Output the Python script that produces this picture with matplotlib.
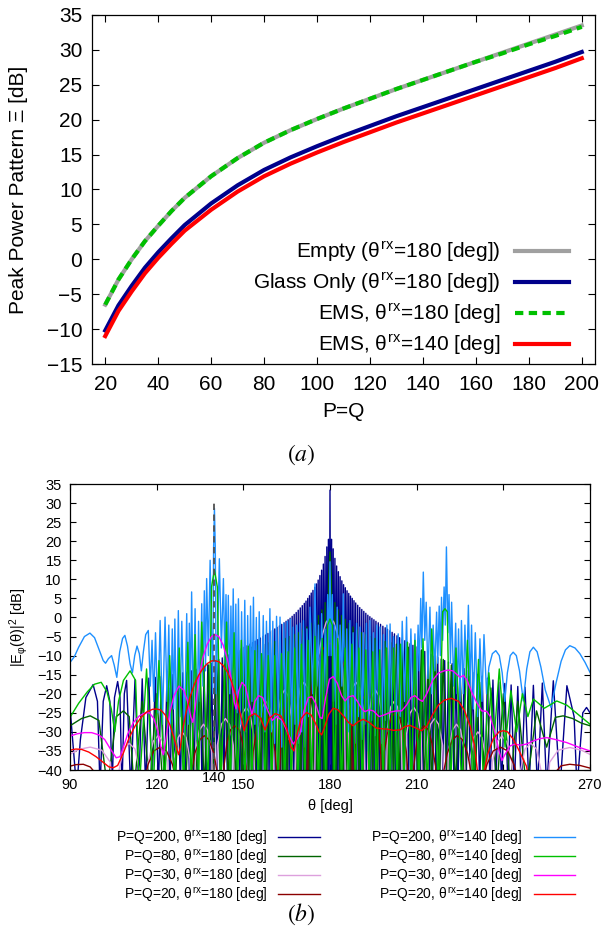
import matplotlib
matplotlib.use("Agg")
import matplotlib.pyplot as plt
import numpy as np

plt.rcParams["font.family"] = ["Liberation Sans", "DejaVu Sans"]
plt.rcParams["mathtext.fontset"] = "custom"
plt.rcParams["mathtext.rm"] = "Liberation Sans"
plt.rcParams["mathtext.it"] = "Liberation Sans"
plt.rcParams["mathtext.bf"] = "Liberation Sans:bold"

# ---------------- panel (a) data ----------------
pq = [20, 25, 30, 35, 40, 45, 50, 60, 70, 80, 90, 100, 110, 120, 130, 140, 150, 160, 170, 180, 190, 200]
empty_180 = [-6.5, -2.9, 0.0, 2.6, 4.8, 6.9, 8.8, 11.9, 14.5, 16.7, 18.5, 20.1, 21.6, 23.0, 24.4, 25.7, 27.0, 28.3, 29.6, 30.9, 32.2, 33.5]
glass_180 = [-10.2, -6.6, -3.8, -1.2, 1.0, 3.0, 4.9, 8.0, 10.6, 12.8, 14.6, 16.2, 17.7, 19.1, 20.5, 21.8, 23.1, 24.4, 25.7, 27.0, 28.3, 29.7]
ems_180 = [-6.5, -2.9, 0.0, 2.6, 4.8, 6.9, 8.8, 11.9, 14.5, 16.7, 18.5, 20.1, 21.6, 23.0, 24.4, 25.7, 27.0, 28.3, 29.5, 30.8, 32.0, 33.3]
ems_140 = [-11.0, -7.4, -4.6, -2.0, 0.2, 2.2, 4.1, 7.1, 9.7, 11.9, 13.7, 15.3, 16.8, 18.2, 19.6, 20.9, 22.2, 23.5, 24.8, 26.1, 27.4, 28.8]

# ---------------- panel (b) data (theta [deg], dB) ----------------
NULL_DB = -45.0  # nulls lie below the -40 dB floor

# P=Q=200, theta_rx=180 : lobe peaks and null positions
navy_peaks = [(90, -23.6), (93.6, -32), (95.5, -21), (98, -17.6), (99.5, -22), (101.5, -22), (102.7, -17.9),
              (103.8, -22), (105.4, -21), (106.5, -16.8), (107.3, -21), (108.8, -20), (109.6, -16.5),
              (112.5, -16.3), (115, -16.1), (117.3, -15.9), (119.5, -15.7), (121.6, -15.5), (123.6, -15.3),
              (125.5, -15), (127.3, -14.8), (129, -14.5), (130.6, -14.3), (132.1, -14), (133.6, -13.6),
              (135, -13.2), (136.4, -12.8), (137.7, -12.4), (139, -12), (140.3, -11.5), (141.5, -11),
              (142.7, -10.6), (143.9, -10.2), (145, -9.8), (146.1, -9.4), (147.2, -9), (148.3, -8.6),
              (149.3, -8.2), (150.3, -7.8), (151.3, -7.4), (152.3, -7), (153.2, -6.6), (154.1, -6.2),
              (155, -5.8), (155.9, -5.4), (156.8, -5), (157.7, -4.6), (158.5, -4.2), (159.3, -3.8),
              (160.1, -3.4), (160.9, -3), (161.7, -2.6), (162.5, -2.2), (163.3, -1.8), (164.1, -1.4),
              (164.8, -1), (165.5, -0.6), (166.2, -0.2), (166.9, 0.3), (167.6, 0.8), (168.3, 1.3),
              (169, 1.9), (169.7, 2.5), (170.4, 3.1), (171.1, 3.7), (171.7, 4.3), (172.3, 5), (172.9, 5.7),
              (173.5, 6.4), (174.1, 7.1), (174.7, 7.9), (175.3, 8.8), (175.9, 9.8), (176.5, 11),
              (177.1, 12.4), (177.7, 14), (178.3, 16), (178.9, 18.5), (179.45, 20.5), (180, 33.4),
              (180.55, 20.5), (181.1, 18), (181.7, 15.5), (182.3, 13.5), (182.9, 12), (183.5, 10.7),
              (184.1, 9.6), (184.7, 8.6), (185.3, 7.8), (185.9, 7), (186.5, 6.3), (187.1, 5.6), (187.7, 5),
              (188.3, 4.4), (188.9, 3.8), (189.6, 3.2), (190.3, 2.6), (191, 2.1), (191.7, 1.6), (192.4, 1.1),
              (193.1, 0.6), (193.8, 0.2), (194.5, -0.2), (195.2, -0.6), (195.9, -1), (196.7, -1.4),
              (197.5, -1.8), (198.3, -2.3), (199.1, -2.7), (199.9, -3.1), (200.7, -3.5), (201.5, -3.9),
              (202.3, -4.3), (203.2, -4.8), (204.1, -5.3), (205, -5.7), (205.9, -6.1), (206.8, -6.5),
              (207.7, -6.9), (208.7, -7.3), (209.7, -7.7), (210.7, -8.1), (211.7, -8.5), (212.8, -8.9),
              (213.9, -9.3), (215, -9.7), (216.1, -10.1), (217.3, -10.5), (218.5, -10.9), (219.7, -11.3),
              (221, -11.7), (222.3, -12.1), (223.6, -12.5), (225, -13), (226.4, -13.4), (227.9, -13.9),
              (229.4, -14.4), (231, -14.9), (232.7, -15.4), (234.5, -15.9), (236.4, -16.4), (238.4, -16.9),
              (240.5, -17.3), (242.7, -17.7), (245, -18.1), (247.5, -18.3), (250.4, -17.8), (253.5, -17.2),
              (257.3, -16.6), (262, -17.9), (264.5, -26), (267.5, -25), (268.8, -23.6), (270, -25)]
navy_nulls = [92.3, 100.4, 104.6, 108, 111, 113.8, 116.2, 118.4, 120.6, 122.6, 124.6, 126.4, 128.2, 129.8,
              131.4, 132.9, 134.3, 135.7, 137.1, 138.4, 139.7, 140.9, 142.1, 143.3, 144.5, 145.6, 146.7,
              147.8, 148.8, 149.8, 150.8, 151.8, 152.8, 153.7, 154.6, 155.5, 156.4, 157.3, 158.1, 158.9,
              159.7, 160.5, 161.3, 162.1, 162.9, 163.7, 164.45, 165.15, 165.85, 166.55, 167.25, 167.95,
              168.65, 169.35, 170.05, 170.75, 171.4, 172, 172.6, 173.2, 173.8, 174.4, 175, 175.6, 176.2,
              176.8, 177.4, 178, 178.6, 179.2, 179.7, 180.3, 180.8, 181.4, 182, 182.6, 183.2, 183.8, 184.4,
              185, 185.6, 186.2, 186.8, 187.4, 188, 188.6, 189.25, 189.95, 190.65, 191.35, 192.05, 192.75,
              193.45, 194.15, 194.85, 195.55, 196.3, 197.1, 197.9, 198.7, 199.5, 200.3, 201.1, 201.9,
              202.7, 203.6, 204.5, 205.4, 206.3, 207.2, 208.2, 209.2, 210.2, 211.2, 212.2, 213.3, 214.4,
              215.5, 216.7, 217.9, 219.1, 220.3, 221.6, 222.9, 224.3, 225.7, 227.1, 228.6, 230.2, 231.8,
              233.6, 235.4, 237.4, 239.4, 241.6, 243.8, 246.2, 248.9, 251.8, 255, 259.6, 265.5]

# P=Q=80, theta_rx=180
dkgreen_peaks = [(90, -28.4), (94, -26.5), (97, -25.8), (100, -27), (106, -26), (108.5, -24.5), (110.5, -26),
                 (115, -22), (120, -20), (124.3, -18.5), (128.2, -17), (131.7, -15.5), (135, -14), (138, -12.5),
                 (140.8, -11), (143.5, -10), (146, -9.3), (148.4, -8.7), (150.7, -8.2), (152.9, -7.8), (155, -7.3),
                 (157, -7), (159, -6.6), (160.9, -6.3), (162.7, -6), (164.4, -5.5), (166, -5), (167.6, -4.5),
                 (169.1, -4), (170.6, -3.3), (172, -2.5), (173.4, -1.5), (174.7, -0.5), (176, 0.5), (177.2, 2),
                 (178.3, 3.9), (179.5, 10), (180, 17.2), (180.5, 10), (181.7, 3.9), (182.8, 2), (184, 0.5),
                 (185.3, -0.5), (186.6, -1.5), (188, -2.5), (189.4, -3.3), (190.9, -4), (192.4, -4.5), (194, -5),
                 (195.6, -5.5), (197.3, -6), (199.1, -6.3), (201, -6.6), (203, -7), (205, -7.3), (207.1, -7.8),
                 (209.3, -8.2), (211.6, -8.7), (214, -9.3), (216.5, -10), (219.2, -11), (222, -12.5), (225, -14),
                 (228.3, -15.5), (231.8, -17), (235.7, -18.5), (240, -20), (245, -22), (251.5, -24.5),
                 (258, -26.2), (260.7, -25.8), (264, -26.5), (267, -27.7), (270, -28.4)]
dkgreen_nulls = [(103, -45), (112.2, -45), (117.6, -45), (122.2, -45), (126.3, -45), (130, -45), (133.4, -45),
                 (136.5, -45), (139.4, -45), (142.2, -45), (144.8, -45), (147.2, -45), (149.6, -45), (151.8, -45),
                 (154, -45), (156, -45), (158, -45), (160, -45), (161.8, -45), (163.6, -45), (165.2, -45),
                 (166.8, -45), (168.4, -45), (169.9, -45), (171.3, -45), (172.7, -45), (174.1, -45), (175.4, -45),
                 (176.6, -45), (177.8, -45), (178.9, -45), (181.1, -45), (182.2, -45), (183.4, -45), (184.6, -45),
                 (185.9, -45), (187.3, -45), (188.7, -45), (190.1, -45), (191.6, -45), (193.2, -45), (194.8, -45),
                 (196.4, -45), (198.2, -45), (200, -45), (202, -45), (204, -45), (206, -45), (208.2, -45),
                 (210.4, -45), (212.8, -45), (215.2, -45), (217.8, -45), (220.6, -45), (223.5, -45), (226.6, -45),
                 (230, -45), (233.7, -45), (237.8, -45), (242.4, -45), (248, -45), (255, -34)]

# P=Q=30, theta_rx=180
plum_pts = [(90, -35.9), (93, -34.6), (97, -34), (101, -34.8), (104, -38), (105.5, -60),
            (107, -40), (108.5, -34.5), (110.5, -33), (112.5, -34.5), (114, -40), (115.5, -60),
            (117, -38), (118.8, -32.5), (120.5, -31), (122.2, -32.5), (123.8, -38), (125, -60),
            (126, -37), (127.4, -31.5), (128.8, -30), (130.2, -31.5), (131.5, -37), (132.5, -60),
            (133.5, -35), (134.8, -29.5), (136.2, -28), (137.6, -29.5), (139, -35), (140, -60),
            (141, -33.5), (142.4, -28), (143.8, -26.5), (145.2, -28), (146.5, -33.5), (147.5, -60),
            (148.5, -30.6), (149.7, -25.1), (151, -23.6), (152.3, -25.1), (153.5, -30.6), (154.5, -60),
            (155.4, -29), (156.6, -23.5), (157.8, -22), (159, -23.5), (160.1, -29), (161, -60),
            (161.9, -26), (163.1, -20.5), (164.3, -19), (165.5, -20.5), (166.6, -26), (167.5, -60),
            (168.5, -24), (169.7, -18.5), (171, -17), (172.3, -18.5), (173.5, -24), (174.5, -60),
            (175, -22), (175.7, -13), (176.5, -8), (177.5, -4.2), (178.7, -1.2), (180, 0), (181.3, -1.2),
            (182.5, -4.2), (183.5, -8), (184.3, -13), (185, -22), (185.5, -60),
            (186.5, -24), (187.7, -18.5), (189, -17), (190.3, -18.5), (191.5, -24), (192.5, -60),
            (193.4, -26), (194.5, -20.5), (195.7, -19), (196.9, -20.5), (198.1, -26), (199, -60),
            (199.9, -29), (201, -23.5), (202.2, -22), (203.4, -23.5), (204.6, -29), (205.5, -60),
            (206.5, -30.6), (207.7, -25.1), (209, -23.6), (210.3, -25.1), (211.5, -30.6), (212.5, -60),
            (213.5, -33.5), (214.8, -28), (216.2, -26.5), (217.6, -28), (219, -33.5), (220, -60),
            (221, -35), (222.4, -29.5), (223.8, -28), (225.2, -29.5), (226.5, -35), (227.5, -60),
            (228.5, -37), (229.8, -31.5), (231.2, -30), (232.6, -31.5), (234, -37), (235, -60),
            (236.2, -38), (237.8, -32.6), (239.5, -31.1), (241.2, -32.6), (243, -38), (244.5, -60),
            (246, -40), (247.5, -34.5), (249.5, -33), (251.5, -34.5), (253, -40), (254.5, -60),
            (256, -38), (259, -34.8), (263, -34.1), (267, -34.8), (270, -35.9)]

# P=Q=20, theta_rx=180
dkred_pts = [(90, -39.0), (92, -38.6), (94.6, -38.5), (97, -39.2), (99, -41), (101, -60),
             (114, -60), (115.5, -44), (117, -38.6), (119, -35), (121.2, -34), (123.4, -35), (125.5, -38.6), (127, -44), (128, -60),
             (131, -60), (132, -41), (133.2, -35.6), (135, -32), (136.5, -31), (138, -32), (139.8, -35.6), (141, -41), (142, -60),
             (142.5, -60), (143.3, -39), (144.3, -33), (145.6, -29.4), (147, -28.4), (148.5, -29.4), (149.8, -33), (150.9, -39), (151.8, -60),
             (152.2, -60), (152.8, -41), (153.4, -35.2), (154.6, -29.6), (155.8, -26), (157.2, -25), (158.6, -26), (159.8, -29.6), (161, -35.2), (161.6, -41), (162, -60),
             (162.4, -46), (163, -30.2), (164, -24.6), (165.5, -21), (167, -20), (168.5, -21), (170, -24.6), (171, -30.2), (171.6, -36), (172, -60),
             (172.5, -30), (173.2, -22), (174.2, -15), (175.4, -12), (177, -9), (178.5, -7.3), (180, -6.8),
             (181.5, -7.3), (183, -9), (184.6, -12), (185.8, -15), (186.8, -22), (187.5, -30), (188, -60),
             (188.4, -36), (189, -30.2), (190, -24.6), (191.5, -21), (193, -20), (194.5, -21), (196, -24.6), (197, -30.2), (197.6, -36), (198, -60),
             (198.3, -46), (198.8, -35.2), (200, -29.6), (201.2, -26), (202.6, -25), (204, -26), (205.2, -29.6), (206.4, -35.2), (207, -41), (207.5, -60),
             (208, -60), (209, -39), (210, -33), (211.2, -29.4), (212.6, -28.4), (214, -29.4), (215.3, -33), (216.5, -39), (217.5, -60),
             (218, -60), (219.2, -41), (220.6, -35.6), (222.4, -32), (224, -31), (225.8, -32), (227.6, -35.6), (228.9, -41), (230, -60),
             (231, -60), (232.5, -44), (234.3, -38.6), (236.5, -35), (239, -34), (241.5, -35), (243.7, -38.6), (245.5, -44), (247, -60),
             (255, -60), (257.5, -41), (260, -38.9), (263, -38.5), (266.5, -38.8), (270, -39.5)]

# P=Q=200, theta_rx=140
ltblue_pts = [(90, -11.8), (91.5, -10.3), (93, -7.8), (95, -5), (96.9, -4.1), (98.5, -5.3), (100, -8.3),
              (101.5, -11.3), (102.3, -12), (103.3, -10.8), (104.4, -10), (105.3, -12.5), (106.2, -15.7),
              (107.2, -9), (108.2, -5.5), (109, -4.7), (109.9, -7.5), (110.8, -12.2), (111.6, -14.5),
              (112.4, -10), (113.2, -7.5), (114, -9.5), (114.7, -14), (115.4, -9), (116.2, -4.5), (117.1, -3.4),
              (117.8, -18), (118.4, -6), (119, -22), (119.6, -4), (120.4, -25), (121.2, -0.8), (122, -28),
              (122.9, 0.1), (123.6, -22), (124.2, -2), (124.8, -30), (125.4, -3), (125.9, -24), (126.3, -0.4),
              (126.9, -32), (127.5, 1.8), (128.1, -26), (128.7, -1), (129.6, -30), (130.4, 1), (130.9, -28),
              (131.3, -1.5), (131.7, -20), (132.1, 6.7), (132.7, -25), (133.3, 2.3), (133.9, -32), (134.5, -1),
              (135, -22), (135.6, 3.6), (136, -18), (136.5, 7), (136.9, -14), (137.3, 10.2), (137.9, -10),
              (138.5, 15), (139.4, -20), (139.7, 18), (140, 28.6), (140.3, 18), (140.6, -20), (141.7, 15.4),
              (142.4, -8), (143.1, 10.2), (143.6, -12), (144, 6), (144.4, -15), (144.8, 5.8), (145.3, -20),
              (145.7, 3), (146.1, -16), (146.5, 7.5), (147, -22), (147.4, 3.5), (147.8, -25), (148.3, 4.9),
              (148.9, -28), (149.4, 1.5), (149.9, -24), (150.5, 4.5), (151, -30), (151.5, 0.5), (152, -26),
              (152.5, 3), (153, -22), (153.5, 5.3), (154, -28), (154.5, 0), (155, -32), (155.5, 1.5),
              (156.2, -26), (156.9, 0.5), (157.5, -30), (158, -1), (158.6, -24), (159.2, 2.3), (159.7, -30),
              (160.2, -1), (160.8, -33), (161.5, 0.3), (162.1, -26), (162.7, 0.1), (163.3, -34), (164, -1.5),
              (164.6, -28), (165.2, -1), (165.8, -32), (166.3, -0.4), (166.8, -35), (167.3, -2.5), (167.9, -28),
              (168.5, -2), (169, -33), (169.6, -1.5), (170.2, -30), (170.8, -0.8), (171.4, -34), (172, -3),
              (172.6, -26), (173.1, 2.7), (174, -20), (174.8, 8.8), (175.4, -18), (176, -2), (176.6, -30),
              (177.1, 1), (177.7, -25), (178.3, -3), (178.8, -20), (179.2, 6), (179.6, -10), (180, 14.6),
              (180.4, -10), (180.8, 6), (181.2, -22), (181.6, -2), (182, -28), (182.5, 2.7), (183, -24),
              (183.5, -2), (184.1, -18), (184.6, 6.2), (185.2, -26), (185.8, -3), (186.3, -30), (186.9, -0.8),
              (187.5, -28), (188, -4), (188.6, -33), (189.2, -1.5), (189.8, -26), (190.4, -2.5), (191, -32),
              (191.5, -4), (192, -28), (192.6, -1.5), (193.2, -35), (193.8, -0.8), (194.4, -27), (195, -4),
              (195.6, -31), (196.2, -2), (196.8, -25), (197.3, -2.5), (197.9, -33), (198.5, -4.5), (199.1, -27),
              (199.7, -2), (200.2, -30), (200.8, -1.7), (201.4, -24), (202, -5), (202.8, -30), (203.6, -4.3),
              (204.3, -26), (205, -1), (205.8, -22), (206.5, 0.1), (207.2, -28), (208, -3), (208.7, -24),
              (209.4, -4.3), (209.9, -20), (210.5, -2), (210.9, -14), (211.4, 5), (211.8, -8), (212.3, 11.9),
              (212.8, -6), (213.3, 4), (213.9, -16), (214.6, 2.7), (215.2, -20), (215.7, -2), (216.3, -14),
              (216.9, 1.4), (217.3, -12), (217.8, 3), (218.2, -10), (218.6, 5.3), (219, -6), (219.5, 8),
              (219.9, -2), (220.3, 18.5), (220.8, -4), (221.2, 6), (221.7, -12), (222.1, 4), (222.8, -18),
              (223.5, -1.5), (224, -20), (224.5, -3), (225, -22), (225.5, -0.8), (226.1, -20), (226.7, -2),
              (227.3, -16), (227.9, 3.2), (228.5, -18), (229, -2), (229.6, -24), (230.3, -4), (231.1, -26),
              (231.9, -5.6), (232.6, -22), (233.3, -4.5), (234.2, -20), (235, -13), (236.2, -9.5), (237.4, -8.7),
              (238.6, -10), (239.6, -14.5), (240.5, -22), (241.4, -14.5), (242.4, -10), (243.4, -9.1),
              (244.5, -10), (245.6, -14), (246.9, -21.9), (248.1, -13.5), (249.2, -9), (250.4, -7.8),
              (251.7, -9), (253, -13), (254.5, -19), (256.5, -23.6), (258.3, -17), (260, -11.5), (261.5, -8.5),
              (263, -7.4), (264.8, -8), (266.5, -9.5), (268.3, -11.8), (270, -14.4)]

# P=Q=80, theta_rx=140
green_peaks = [(90, -26.2), (93, -22.5), (96, -19.5), (98.5, -17.5), (100.8, -17), (102.8, -19.5), (104.3, -24),
               (106.8, -22), (108.5, -16.5), (110.8, -14), (112.7, -16.5), (116.5, -13.5), (120.8, -11.3),
               (124.5, -10), (127.8, -8), (130.8, -6.5), (133.3, -4.5), (135.6, -1.2), (139, 8), (140, 12.5),
               (141, 8), (144.2, -1.2), (146.8, -4), (149.3, -6), (151.7, -7.5), (154, -8.7), (156.3, -9.5),
               (158.6, -10), (160.9, -10), (163.2, -9.5), (165.5, -9), (167.8, -8), (170.1, -7), (172.4, -6),
               (174.8, -5), (177.3, -5.5), (179.2, -2), (180, -0.4), (180.8, -2), (182.7, -5.5), (185.2, -8),
               (187.6, -7), (190, -8), (192.4, -8.5), (194.8, -9), (197.2, -8.5), (199.6, -8), (202, -8),
               (204.4, -7), (206.8, -6.5), (209.4, -6), (212.2, -5.6), (215.2, -3), (219, 1.5), (219.8, 2.3),
               (220.6, 1.5), (223.6, -8), (227.6, -6), (231.4, -11), (235, -14.5), (238.6, -13.5), (242.6, -19.2),
               (246.6, -20), (250.4, -21.4), (258.5, -21.9), (262, -23), (266, -25.5), (270, -28)]
green_nulls = [(105.5, -30), (114, -45), (118.8, -45), (122.8, -45), (126.2, -45), (129.3, -45), (132, -45),
               (134.5, -45), (137.8, -45), (142.2, -45), (145.5, -45), (148, -45), (150.5, -45), (152.9, -45),
               (155.2, -45), (157.5, -45), (159.8, -45), (162, -45), (164.3, -45), (166.6, -45), (169, -45),
               (171.3, -45), (173.6, -45), (176, -45), (178.5, -45), (181.5, -45), (184, -45), (186.4, -45),
               (188.8, -45), (191.2, -45), (193.6, -45), (196, -45), (198.4, -45), (200.8, -45), (203.2, -45),
               (205.6, -45), (208.1, -45), (210.8, -45), (213.7, -45), (217.5, -45), (221.7, -45), (225.6, -45),
               (229.5, -45), (233.2, -45), (236.8, -32), (240.6, -34), (244.6, -30), (248.5, -26), (254.2, -23.8)]

# P=Q=30, theta_rx=140
magenta_pts = [(90, -31.1), (92.5, -30.5), (95, -30.2), (97.5, -30.2), (100, -30.8), (102, -32), (104, -34.5),
               (106, -36.8), (107.3, -36.5), (108.5, -34), (110, -30.5), (112, -27.5), (114, -25.8), (116, -25),
               (117.5, -25), (119, -26.5), (120.5, -30), (121.5, -34), (122.3, -36), (123.2, -32), (124.5, -25),
               (126, -20.5), (127.7, -18), (129.3, -19), (130.7, -22), (131.8, -26), (132.5, -27.5), (133.3, -24),
               (134.5, -16), (136, -10.5), (137.5, -7), (139, -5), (140.2, -4.5), (141.5, -5), (143, -7.2),
               (144.5, -11), (145.8, -16), (146.8, -22), (147.5, -24), (148.3, -19.5), (149.5, -17), (150.7, -18),
               (152, -22.5), (153, -25.5), (154, -22), (155.3, -20.5), (156.7, -21), (158.5, -24.5), (160, -27),
               (161.5, -26), (163.5, -27), (165.5, -30.5), (167.3, -33.2), (168.5, -32), (169.6, -30.6), (171, -24.5),
               (172.5, -21), (173.8, -20.8), (175, -22.5), (176.5, -26.2), (177.3, -26.5), (178.5, -21),
               (179.8, -16.2), (181.1, -15.5), (182.5, -17.2), (184, -20.5), (185.2, -21.9), (186.5, -20.8),
               (188, -20.5), (189.5, -22), (191, -24), (192.1, -24.7), (193.5, -24.2), (195, -24.5), (197, -26),
               (199, -25.5), (201, -24.8), (203, -24.5), (204.8, -24.5), (206.5, -23), (208, -21), (209.4, -20.5),
               (210.8, -21.5), (212, -22), (213.5, -20), (215.5, -16.5), (217.5, -14.6), (219.5, -14), (221, -13.8),
               (222.5, -14), (224, -15), (225, -15.7), (226.2, -15.2), (227.5, -16.5), (229, -19.5), (230.8, -22.3),
               (232.5, -24.5), (234.2, -24.6), (235.5, -26), (237, -30), (238.5, -35), (239.5, -37.5), (240.5, -36),
               (242.3, -33.7), (244, -33.2), (246, -33.5), (248, -33.2), (250, -32.5), (252.5, -31.8), (255, -31.5),
               (258, -32), (261.9, -32.8), (266, -34), (270, -35)]

# P=Q=20, theta_rx=140
red_pts = [(90, -34.8), (92, -34.5), (94, -34.6), (96.5, -35.3), (99, -36.5), (101.5, -38), (103.5, -39.2),
           (105, -39.4), (106.5, -38.8), (108.5, -35.5), (110.5, -31.5), (112.5, -28.5), (114.5, -26.3),
           (116.5, -24.8), (118.5, -24.1), (120, -24.0), (121.5, -24.3), (123, -25.6), (124.5, -28), (126, -31.5),
           (127, -34.5), (127.6, -36), (128.2, -34), (129, -29.5), (130, -25.5), (131.5, -21), (133, -17.6),
           (134.5, -15.2), (136, -13.4), (137.5, -12.1), (139, -11.4), (140, -11.3), (141.5, -11.6), (143, -12.6),
           (144.5, -14.3), (146, -17), (147.5, -20.6), (149, -25.5), (150.3, -29.7), (152, -26), (154, -25.2),
           (156, -26.5), (157.5, -29.5), (159, -26.5), (161, -25.2), (163, -25.8), (165, -29), (166.5, -34),
           (167.5, -35), (168.5, -31), (170, -26.5), (171.9, -24.9), (173.5, -25.6), (175, -27.8), (176.2, -30),
           (177.1, -30.8), (178, -29), (179.5, -25.5), (181.1, -23.8), (182.7, -24.2), (184.5, -25.7), (186.5, -27.6),
           (188, -28.4), (189.8, -27.3), (191.5, -26.7), (193.5, -27.5), (196, -29), (198, -29.2), (200, -29.3),
           (202, -29.6), (204.2, -29.5), (206, -28.6), (207.7, -28.3), (209.5, -28.9), (211.7, -29.7), (213.5, -28.5),
           (215.5, -25.5), (217.5, -23), (219.5, -21.7), (222, -21.2), (224.5, -22), (226.5, -24.3), (228.5, -28.5),
           (230, -33.5), (231, -40), (231.5, -60), (233, -42), (234.5, -36), (236.5, -31.8), (238.5, -30),
           (240, -29.7), (241.5, -30), (243.5, -32), (245.5, -35), (248, -39), (250.4, -48)]

labels_b = ["P=Q=200, $\\theta^{rx}$=180 [deg]", "P=Q=80, $\\theta^{rx}$=180 [deg]",
            "P=Q=30, $\\theta^{rx}$=180 [deg]", "P=Q=20, $\\theta^{rx}$=180 [deg]",
            "P=Q=200, $\\theta^{rx}$=140 [deg]", "P=Q=80, $\\theta^{rx}$=140 [deg]",
            "P=Q=30, $\\theta^{rx}$=140 [deg]", "P=Q=20, $\\theta^{rx}$=140 [deg]"]
colors_b = ["#00008b", "#006400", "#dda0dd", "#8b0000", "#1e90ff", "#00c000", "#ff00ff", "#ff0000"]


def merged(peaks, nulls):
    pts = sorted(list(peaks) + list(nulls))
    return [p[0] for p in pts], [p[1] for p in pts]


def unzip(pts):
    return [p[0] for p in pts], [p[1] for p in pts]


curves_b = [
    merged(navy_peaks, [(t, NULL_DB) for t in navy_nulls]),
    merged(dkgreen_peaks, dkgreen_nulls),
    unzip(plum_pts),
    unzip(dkred_pts),
    unzip(ltblue_pts),
    merged(green_peaks, green_nulls),
    unzip(magenta_pts),
    unzip(red_pts),
]

fig = plt.figure(figsize=(6.02, 9.35), dpi=100)

# ---------------- panel (a) ----------------
ax1 = fig.add_axes([92 / 602, 1 - 364 / 935, 503 / 602, 349 / 935])
ax1.plot(pq, empty_180, color="#a0a0a0", lw=3.0, label="Empty ($\\theta^{rx}$=180 [deg])")
ax1.plot(pq, glass_180, color="#00008b", lw=3.0, label="Glass Only ($\\theta^{rx}$=180 [deg])")
ax1.plot(pq, ems_180, color="#00c000", lw=3.0, dashes=(2.0, 1.3), label="EMS, $\\theta^{rx}$=180 [deg]")
ax1.plot(pq, ems_140, color="#ff0000", lw=3.0, label="EMS, $\\theta^{rx}$=140 [deg]")
ax1.set_xlim(15, 205)
ax1.set_ylim(-15, 35)
ax1.set_xticks(range(20, 201, 20))
ax1.set_yticks(range(-15, 36, 5))
ax1.tick_params(direction="in", top=True, right=True, length=5, width=0.8, labelsize=15)
ax1.tick_params(axis="x", pad=8)
ax1.tick_params(axis="y", pad=7)
ax1.set_xlabel("P=Q", fontsize=15)
ax1.xaxis.set_label_coords(0.5, -0.11)
ax1.set_ylabel("Peak Power Pattern Ξ [dB]", fontsize=15)
ax1.yaxis.set_label_coords(-0.128, 0.5)
for s in ax1.spines.values():
    s.set_linewidth(0.9)
leg1 = ax1.legend(loc="lower right", bbox_to_anchor=((569 - 92) / 503, 0.02), frameon=False,
                  markerfirst=False, fontsize=15, handlelength=2.6, handletextpad=0.7,
                  labelspacing=0.33, borderpad=0, borderaxespad=0)

fig.text(0.5, 1 - 455 / 935, "$(a)$", math_fontfamily="stix", fontsize=17, ha="center", va="center")

# ---------------- panel (b) ----------------
ax2 = fig.add_axes([70 / 602, 1 - 770 / 935, 520 / 602, 286 / 935])
handles = []
for (th, db), c, lab in zip(curves_b, colors_b, labels_b):
    h, = ax2.plot(th, db, color=c, lw=1.0, label=lab)
    handles.append(h)
ax2.plot([140, 140], [-40, 30], color="#505050", lw=1.3, dashes=(3.5, 2.5), zorder=5)
ax2.set_xlim(90, 270)
ax2.set_ylim(-40, 35)
ax2.set_xticks(range(90, 271, 30))
ax2.set_yticks(range(-40, 36, 5))
ax2.tick_params(direction="in", top=True, right=True, length=4, width=0.8, labelsize=10.5)
ax2.tick_params(axis="x", pad=6)
ax2.tick_params(axis="y", pad=6)
ax2.text(140, -0.028, "140", transform=ax2.get_xaxis_transform(), ha="center", va="center", fontsize=10.5)
ax2.set_xlabel("θ [deg]", fontsize=10.5)
ax2.xaxis.set_label_coords(0.5, -0.1)
ax2.set_ylabel("$|E_{\\varphi}(\\theta)|^{2}$ [dB]", fontsize=10.5)
ax2.yaxis.set_label_coords(-0.077, 0.5)
for s in ax2.spines.values():
    s.set_linewidth(0.9)

fig.legend(handles=handles, loc="upper left", bbox_to_anchor=(116 / 602, 1 - 828 / 935), ncol=2,
           frameon=False, markerfirst=False, fontsize=10, handlelength=3.0, handletextpad=0.8,
           columnspacing=3.7, labelspacing=0.0, borderpad=0, borderaxespad=0)

fig.text(0.5, 1 - 914 / 935, "$(b)$", math_fontfamily="stix", fontsize=17, ha="center", va="center")

fig.savefig("out.png", dpi=100)
